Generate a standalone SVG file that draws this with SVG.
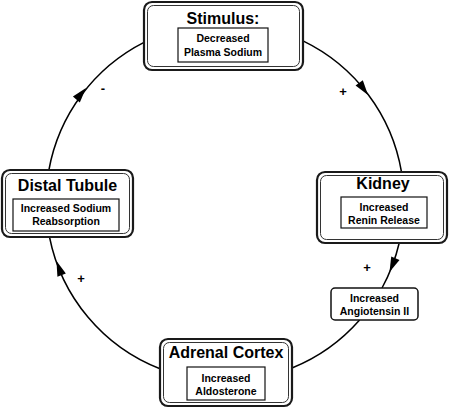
<svg xmlns="http://www.w3.org/2000/svg" width="450" height="408" viewBox="0 0 450 408">
<style>
.bg{fill:#fff}
.outer{fill:#fff;stroke:#1a1a1a;stroke-width:2.2}
.inner2{fill:none;stroke:#333;stroke-width:1}
.lbl{fill:#fff;stroke:#111;stroke-width:1.2}
.title{font-family:"Liberation Sans",Arial,sans-serif;font-weight:bold;font-size:16px;fill:#000;text-anchor:middle}
.sub{font-family:"Liberation Sans",Arial,sans-serif;font-weight:bold;font-size:10.5px;fill:#000;text-anchor:middle}
.sign{font-family:"Liberation Sans",Arial,sans-serif;font-weight:bold;font-size:13px;fill:#000;text-anchor:middle}
.arc{fill:none;stroke:#000;stroke-width:1.5}
</style>
<defs>
<path id="ah" d="M0,0 L-15,-4.5 L-15,4.5 Z" fill="#000"/>
</defs>
<rect class="bg" x="0" y="0" width="450" height="408"/>
<g id="connectors">
<path class="arc" d="M303,40.9 A179,179 0 0 1 401.5,172"/>
<path class="arc" d="M399.2,243 A179,179 0 0 1 382,288"/>
<path class="arc" d="M359.6,320 A179,179 0 0 1 292,368"/>
<path class="arc" d="M160,368.8 A179,179 0 0 1 49.5,237"/>
<path class="arc" d="M48.9,170 A179,179 0 0 1 144,42.4"/>
<use href="#ah" transform="translate(368,95) rotate(54)"/>
<use href="#ah" transform="translate(389.5,272) rotate(113)"/>
<use href="#ah" transform="translate(56.5,261) rotate(-110)"/>
<use href="#ah" transform="translate(86,88) rotate(-50)"/>
<text class="sign" x="343" y="96">+</text>
<text class="sign" x="367" y="272">+</text>
<text class="sign" x="81" y="283">+</text>
<text class="sign" x="103" y="93">-</text>
</g>
<g id="stimulus">
<rect class="outer" x="144" y="2" width="159" height="68" rx="8"/>
<rect class="inner2" x="147.5" y="5.5" width="152" height="61" rx="6"/>
<text class="title" x="223" y="24">Stimulus:</text>
<rect class="lbl" x="178" y="28" width="90" height="34"/>
<text class="sub" x="223" y="42">Decreased</text>
<text class="sub" x="223" y="56">Plasma Sodium</text>
</g>
<g id="kidney">
<rect class="outer" x="317" y="172" width="130" height="71" rx="8"/>
<rect class="inner2" x="320.5" y="175.5" width="123" height="64" rx="6"/>
<text class="title" x="383" y="189">Kidney</text>
<rect class="lbl" x="341" y="197" width="86" height="31"/>
<text class="sub" x="384" y="211">Increased</text>
<text class="sub" x="384" y="224">Renin Release</text>
</g>
<g id="angiotensin">
<rect class="lbl" x="331" y="288" width="87" height="32" rx="4" style="stroke-width:1.5"/>
<text class="sub" x="374.5" y="302">Increased</text>
<text class="sub" x="374.5" y="315">Angiotensin II</text>
</g>
<g id="adrenal">
<rect class="outer" x="160" y="339" width="132" height="67" rx="8"/>
<rect class="inner2" x="163.5" y="342.5" width="125" height="60" rx="6"/>
<text class="title" x="226" y="358">Adrenal Cortex</text>
<rect class="lbl" x="187" y="367" width="78" height="33"/>
<text class="sub" x="226" y="382">Increased</text>
<text class="sub" x="226" y="395">Aldosterone</text>
</g>
<g id="distal">
<rect class="outer" x="2" y="170" width="131" height="67" rx="8"/>
<rect class="inner2" x="5.5" y="173.5" width="124" height="60" rx="6"/>
<text class="title" x="67.5" y="191">Distal Tubule</text>
<rect class="lbl" x="13" y="199" width="106" height="32"/>
<text class="sub" x="66" y="212">Increased Sodium</text>
<text class="sub" x="66" y="225">Reabsorption</text>
</g>
</svg>
